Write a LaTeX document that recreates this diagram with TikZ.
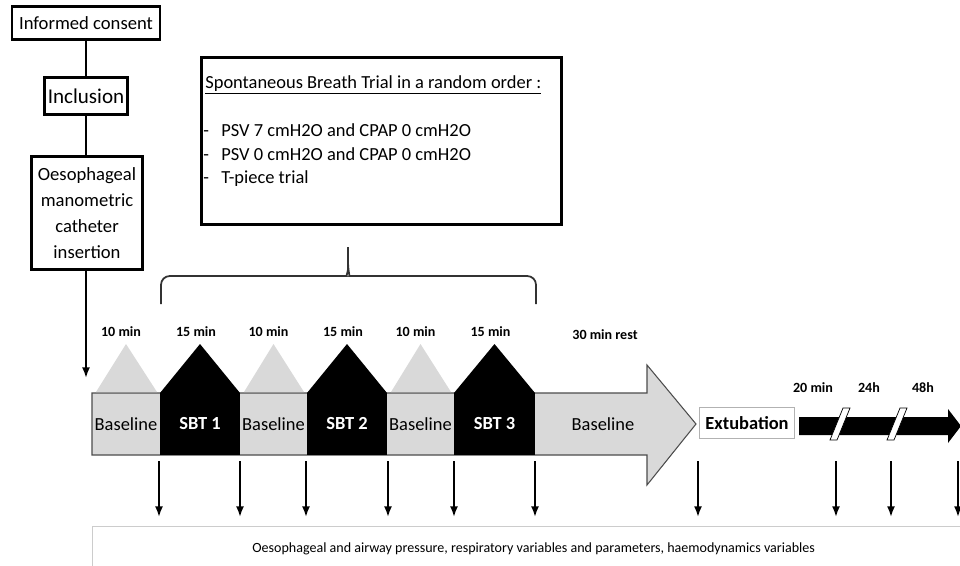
\documentclass[tikz,border=0pt]{standalone}
\usepackage{fontspec}
\setmainfont{Carlito}
\usetikzlibrary{arrows.meta}
\begin{document}
\begin{tikzpicture}[x=0.02cm,y=-0.02cm,
    box/.style={draw,line width=1.5pt,inner sep=0pt,align=center},
    dur/.style={font=\fontsize{8}{9}\selectfont\bfseries},
    seg/.style={font=\fontsize{10.5}{12}\selectfont},
    sbt/.style={font=\fontsize{10.5}{12}\selectfont\bfseries,text=white},
    item/.style={anchor=base west,inner sep=0pt,font=\fontsize{10.5}{12}\selectfont},
    tick/.style={-{Latex[length=6pt,width=4.5pt]},line width=1.1pt}]
        \useasboundingbox (0,0) rectangle (960,565);
        % study steps
        \node[box,minimum width=2.96cm,minimum height=0.66cm,font=\fontsize{10.6}{13}\selectfont] (consent) at (86,23) {Informed consent};
        \node[box,minimum width=1.66cm,minimum height=0.74cm,font=\fontsize{12}{14}\selectfont] (inclusion) at (86,96) {Inclusion};
        \node[box,minimum width=2.22cm,minimum height=2.26cm,font=\fontsize{10.6}{14.8}\selectfont] (catheter) at (87,213) {Oesophageal\\manometric\\catheter\\insertion};
        \coordinate (start) at (86,378);
        \draw[line width=1.2pt] (consent) -- (inclusion);
        \draw[line width=1.2pt] (inclusion) -- (inclusion |- catheter.north);
        \draw[tick] (catheter.south -| start) -- (start);
        % trials box
        \node[box,minimum width=7.2cm,minimum height=3.34cm,anchor=north west] (trials) at (200,56) {};
        \node[item] (trialtitle) at (205,88) {\underline{Spontaneous Breath Trial in a random order :}};
        \foreach \t [count=\i] in {PSV 7 cmH2O and CPAP 0 cmH2O,PSV 0 cmH2O and CPAP 0 cmH2O,T-piece trial}
            \node[item] (item\i) at (203,{113+23.5*\i}) {-\hspace{7pt}\t};
        \draw[line width=1pt,black!80,rounded corners=5pt] (161,304) -- (161,276) -- (338,276) .. controls (346,276) and (348,272) .. (348,260) -- (348,247) (348,260) .. controls (348,272) and (350,276) .. (358,276) -- (536,276) -- (536,304);
        % timeline
        \filldraw[fill=gray!30,draw=black!70,line width=0.6pt] (92,393) -- (647,393) -- (647,365) -- (696,424) -- (647,485) -- (647,455) -- (92,455) -- cycle;
        \foreach \l/\r/\n in {92/160/1,240/307/2,387/454/3} {
            \fill[gray!30] ({\l+4},392) -- ({(\l+\r)/2},344) -- ({\r-3},392) -- cycle;
            \node[seg] (base\n) at ({(\l+\r)/2},424) {Baseline};
            \node[dur] (dbase\n) at ({(\l+\r)/2-5},332) {10 min};
        }
        \foreach \l/\r/\n in {160/240/1,307/387/2,454/535/3} {
            \fill (\l,393) rectangle (\r,455);
            \fill (\l,393) -- ({(\l+\r)/2},344) -- (\r,393) -- cycle;
            \node[sbt] (sbt\n) at ({(\l+\r)/2},424) {SBT \n};
            \node[dur] (dsbt\n) at ({(\l+\r)/2-4},332) {15 min};
        }
        \node[seg] (rest) at (603,424) {Baseline};
        \node[dur] (drest) at (605,335) {30 min rest};
        \node[draw=gray!60,line width=0.5pt,minimum width=1.8cm,minimum height=0.62cm,font=\fontsize{10.5}{12}\selectfont\bfseries] (extub) at (747,423) {Extubation};
        \fill (799,417) -- (948,417) -- (948,409) -- (961,426) -- (948,443) -- (948,435) -- (799,435) -- cycle;
        \foreach \s in {830,887}
            \filldraw[fill=white,line width=0.4pt] (\s,440) -- ({\s+13},408) -- ({\s+20},408) -- ({\s+7},440) -- cycle;
        \node[dur] (d20) at (813,388) {20 min};
        \node[dur] (d24) at (869,388) {24h};
        \node[dur] (d48) at (923,388) {48h};
        % measurements
        \node[draw=gray!40,line width=0.8pt,minimum width=17.64cm,minimum height=0.88cm,anchor=north west,font=\fontsize{8}{9}\selectfont] (measures) at (92,526) {Oesophageal and airway pressure, respiratory variables and parameters, haemodynamics variables};
        \foreach \x in {159,240,306,388,454,535,698,836,891,958}
            \draw[tick] (\x,461) -- (\x,517);
\end{tikzpicture}
\end{document}
